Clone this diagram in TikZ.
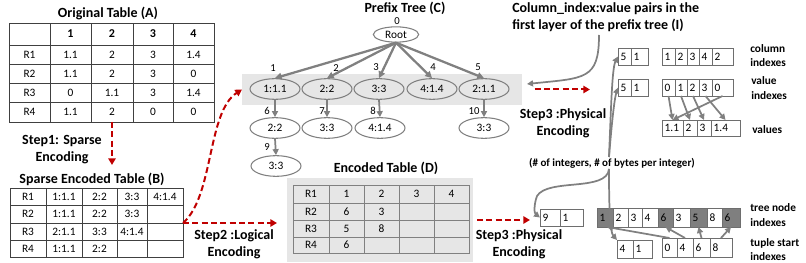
\documentclass[tikz,border=0pt]{standalone}
\usepackage{fontspec}
\setmainfont{Carlito}
\usetikzlibrary{shapes.geometric,arrows.meta}
\definecolor{gline}{HTML}{808080}
\definecolor{aline}{HTML}{6E6E6E}
\definecolor{tline}{HTML}{404040}
\definecolor{bandgray}{HTML}{E6E6E6}
\definecolor{darkcell}{HTML}{7F7F7F}
\definecolor{redd}{HTML}{C00000}

\newcommand\cell[7][]{%
  \pgfmathsetmacro\cw{abs(#5-#3)*0.75}%
  \pgfmathsetmacro\ch{abs(#6-#4)*0.75}%
  \pgfmathsetmacro\tw{\cw-4}%
  \node[cellbox,minimum width=\cw pt,minimum height=\ch pt,#1] (#2) at ({(#3+#5)/2},{(#4+#6)/2}) {#7};}
\newcommand\trow[5][]{%
  \foreach \xa/\xb/\tx [count=\ci] in {#5}{\cell[#1]{#2\ci}{\xa}{#3}{\xb}{#4}{\tx}}}

\begin{document}
\begin{tikzpicture}[x=0.75pt,y=-0.75pt,
  cellbox/.style={draw=tline, line width=0.6pt, inner sep=0pt, outer sep=0pt, font=\fontsize{8.5}{10}\selectfont, anchor=center},
  lt/.style={text width=\tw pt, align=left, inner xsep=2pt, inner ysep=0pt},
  arrc/.style={draw=aline, line width=0.7pt, lt},
  ttl/.style={font=\fontsize{10.5}{12.75}\selectfont\bfseries, inner sep=0pt, align=center},
  rlab/.style={font=\fontsize{8.5}{11}\selectfont\bfseries, inner sep=0pt, align=left, anchor=west},
  tn/.style={ellipse, draw=gline, line width=0.8pt, fill=white, minimum width=37.5pt, minimum height=15.5pt, inner sep=0pt, font=\fontsize{8.5}{10}\selectfont},
  tl/.style={font=\fontsize{8}{9}\selectfont, inner sep=0pt},
  tarrow/.style={draw=gline, line width=1.7pt, -{Triangle[length=5pt,width=5pt]}},
  garrow/.style={draw=gline, line width=1.3pt, -{Triangle[length=4.5pt,width=4.5pt]}},
  reddash/.style={draw=redd, line width=1.5pt, dash pattern=on 4.5pt off 2.5pt, -{Triangle[length=5pt,width=5.5pt]}}]
\useasboundingbox (0,0) rectangle (806,263);

% ---------- Table A ----------
\node[ttl] (tA) at (108,13) {Original Table (A)};
\trow[font=\fontsize{9}{10}\selectfont\bfseries]{Ah}{23}{45}{9/50/{},50/91/1,91/133/2,133/173/3,173/214/4}
\trow{A1}{45}{64}{9/50/R1,50/91/1.1,91/133/2,133/173/3,173/214/1.4}
\trow{A2}{64}{83}{9/50/R2,50/91/1.1,91/133/2,133/173/3,173/214/0}
\trow{A3}{83}{102}{9/50/R3,50/91/0,91/133/1.1,133/173/3,173/214/1.4}
\trow{A4}{102}{122}{9/50/R4,50/91/1.1,91/133/2,133/173/0,173/214/0}

% ---------- Step 1 ----------
\node[ttl] (s1) at (62,149.5) {Step1: Sparse\\Encoding};
\coordinate (s1end) at (112,165);
\draw[reddash] (A43.south) -- (s1end);

% ---------- Table B ----------
\node[ttl] (tB) at (92,179) {Sparse Encoded Table (B)};
\trow{B1}{188}{205}{10/46/R1,46/82/1:1.1,82/117/2:2,117/147/3:3,147/183/4:1.4}
\trow{B2}{205}{223}{10/46/R2,46/82/1:1.1,82/117/2:2,117/147/3:3,147/183/{}}
\trow{B3}{223}{240}{10/46/R3,46/82/2:1.1,82/117/3:3,117/147/4:1.4,147/183/{}}
\trow{B4}{240}{257}{10/46/R4,46/82/1:1.1,82/117/2:2,117/147/{},147/183/{}}

% ---------- Prefix tree ----------
\cell[fill=bandgray,draw=none]{band}{242}{74}{522}{105}{}
\node[ttl] (tC) at (405,8.5) {Prefix Tree (C)};
\node[tn, minimum width=34pt, minimum height=11.5pt] (root) at (396,34.5) {Root};
\node[tn, fill=bandgray] (n1) at (275,89) {1:1.1};
\node[tn, fill=bandgray] (n2) at (327,89) {2:2};
\node[tn, fill=bandgray] (n3) at (379,89) {3:3};
\node[tn, fill=bandgray] (n4) at (432,89) {4:1.4};
\node[tn, fill=bandgray] (n5) at (484,89) {2:1.1};
\node[tn] (n6) at (275,128) {2:2};
\node[tn] (n7) at (327,128) {3:3};
\node[tn] (n8) at (380,128) {4:1.4};
\node[tn] (n10) at (484,128) {3:3};
\node[tn] (n9) at (276,166) {3:3};
\node[tl] (l0) at (397,21) {0};
\node[tl] (l1) at (273,68) {1};
\node[tl] (l2) at (336,68) {2};
\node[tl] (l3) at (376,67) {3};
\node[tl] (l4) at (433,67) {4};
\node[tl] (l5) at (478,67) {5};
\node[tl] (l6) at (267,111) {6};
\node[tl] (l7) at (322,111) {7};
\node[tl] (l8) at (373,111) {8};
\node[tl] (l9) at (267,147) {9};
\node[tl] (l10) at (474,111) {10};
\foreach \k in {1,...,5}{\draw[tarrow] (root.south) -- (n\k.north);}
\draw[garrow] (n1.south) -- (n6.north);
\draw[garrow] (n2.south) -- (n7.north);
\draw[garrow] (n3.south) -- (n8.north);
\draw[garrow] (n5.south) -- (n10.north);
\draw[garrow] (n6.south) -- (n9.north);

% ---------- Table D ----------
\cell[fill=bandgray,draw=none]{Dbox}{287}{178}{473}{262}{}
\node[ttl] (tD) at (386,168) {Encoded Table (D)};
\trow[draw=gline]{D1}{185}{203}{293/329/R1,329/364/1,364/399/2,399/434/3,434/469/4}
\trow[draw=gline]{D2}{203}{220}{293/329/R2,329/364/6,364/399/3,399/434/{},434/469/{}}
\trow[draw=gline]{D3}{220}{237}{293/329/R3,329/364/5,364/399/8,399/434/{},434/469/{}}
\trow[draw=gline]{D4}{237}{253}{293/329/R4,329/364/6,364/399/{},399/434/{},434/469/{}}

% ---------- Step 2 ----------
\node[ttl] (s2) at (234,244.5) {Step2 :Logical\\Encoding};
\draw[reddash, shorten >=7.5pt] (B25.south east) -- (B25.south east -| Dbox.west);
\draw[reddash] (B25.south east) .. controls (214,196) and (207,112) .. (band.west);

% ---------- Step 3 ----------
\node[ttl] (s3a) at (563,123.5) {Step3 :Physical\\Encoding};
\node[ttl] (s3b) at (519,244.5) {Step3 :Physical\\Encoding};

% ---------- right arrays ----------
\trow[arrc]{b1}{48}{65}{618/631/5,631/648/1}
\trow[arrc]{c1}{48}{65}{662/675/1,675/687/2,687/699/3,699/712/4,712/733/2}
\trow[arrc]{b2}{79}{96}{618/631/5,631/648/1}
\trow[arrc]{c2}{79}{96}{662/675/0,675/687/1,687/699/2,699/712/3,712/733/0}
\trow[arrc]{v}{120}{136}{662/683/1.1,683/697/2,697/711/3,711/740/1.4}
\trow[arrc]{nb}{209}{226}{540/560/9,560/583/1}
\cell[arrc,fill=darkcell]{tn1}{597}{208}{613}{227}{1}
\cell[arrc]{tn2}{613}{208}{628}{227}{2}
\cell[arrc]{tn3}{628}{208}{642}{227}{3}
\cell[arrc]{tn4}{642}{208}{658}{227}{4}
\cell[arrc,fill=darkcell]{tn5}{658}{208}{673}{227}{6}
\cell[arrc]{tn6}{673}{208}{690}{227}{3}
\cell[arrc,fill=darkcell]{tn7}{690}{208}{707}{227}{5}
\cell[arrc]{tn8}{707}{208}{722}{227}{8}
\cell[arrc,fill=darkcell]{tn9}{722}{208}{740}{227}{6}
\trow[arrc]{fb}{240}{258}{617/633/4,633/652/1}
\trow[arrc]{ts}{238}{257}{662/677/0,677/693/4,693/710/6,710/732/8}

\node[rlab] (rl1) at (750,55.5) {column\\indexes};
\node[rlab] (rl2) at (751,88) {value\\indexes};
\node[rlab] (rl3) at (752,130) {values};
\node[rlab] (rl4) at (750,215) {tree node\\indexes};
\node[rlab] (rl5) at (750,249.5) {tuple start\\indexes};

% red arrows step 3
\draw[reddash, shorten <=9.5pt, shorten >=21pt] (band.east) -- (band.east -| b21.west);
\draw[reddash, shorten <=3pt, shorten >=7.5pt] (Dbox.east) -- (Dbox.east -| nb1.west);

% Column index text + arrow
\node[rlab, font=\fontsize{10.5}{12.75}\selectfont\bfseries] (ci) at (512,17.5) {Column\_index:value pairs in the\\first layer of the prefix tree (I)};
\coordinate (cis) at (599,35);
\coordinate (cie) at (527,84);
\draw[garrow] (cis) .. controls (599,80) and (585,78) .. (cie);

% value index arrows
\draw[garrow] (c21.south) -- (v1.north);
\draw[garrow] (c22.south) -- (v2.north);
\draw[garrow] (c23.south) -- (v3.north);
\draw[garrow] (c24.south) -- (v4.north);
\draw[garrow] (c25.south) -- (v1.north);

% tuple start arrows
\draw[garrow] (ts1.north) -- ([xshift=1.5pt]tn1.south);
\draw[garrow] (ts2.north) -- (tn5.south);
\draw[garrow] (ts3.north) -- (tn7.south);
\draw[garrow] (ts4.north) -- (tn9.south);

% (# of integers ...) label and its lines
\node[font=\fontsize{8.25}{10}\selectfont\bfseries, inner sep=0pt] (nl) at (612,163) {(\# of integers, \# of bytes per integer)};
\coordinate (fk1) at (609,157);
\coordinate (fk2) at (609,169);
\draw[garrow] (fk1) .. controls (611,110) and (612,68) .. (b11.west);
\draw[garrow] (fk1) .. controls (611,132) and (614,100) .. (b21.west);
\draw[garrow] (fk2) .. controls (607,192) and (548,178) .. (537,196) .. controls (534,204) and (534,213) .. (nb1.west);
\draw[garrow] (fk2) .. controls (609,210) and (610,232) .. (fb1.north west);
\end{tikzpicture}
\end{document}
